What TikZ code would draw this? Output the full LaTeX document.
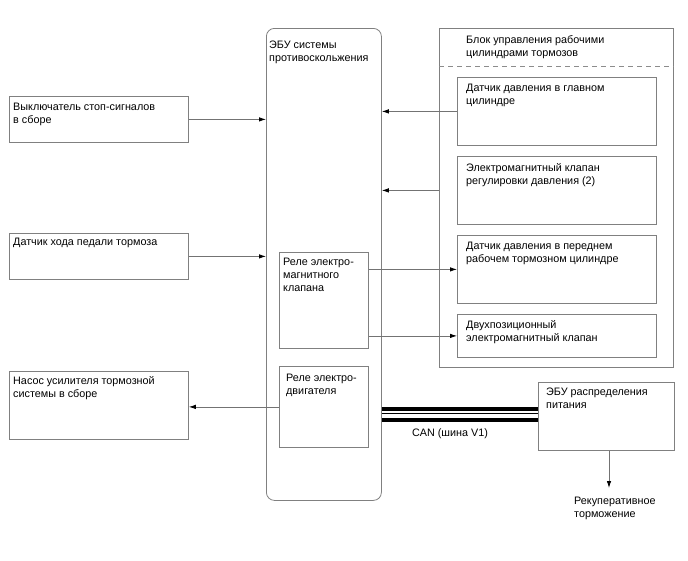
\documentclass[tikz,border=0pt]{standalone}
\usepackage{fontspec}
\setmainfont{Liberation Sans}
\usetikzlibrary{positioning, arrows.meta}

\tikzset{
  box/.style={draw=black!50, line width=0.8pt, anchor=north west, inner sep=0pt},
  txt/.style={anchor=north west, inner sep=0pt, align=left, font=\fontsize{10.8}{13}\selectfont},
  sig/.style={draw=black!55, line width=0.8pt, -{Latex[length=7pt,width=4.5pt,color=black]}},
  can/.style={draw=black, line width=3.4pt},
  sep/.style={draw=black!45, line width=0.8pt, dash pattern=on 5pt off 4pt}
}

\begin{document}
\begin{tikzpicture}[x=1pt, y=-1pt]
\useasboundingbox (0,0) rectangle (688,560);

        % antiskid ECU with its relays
        \node[box, rounded corners=8pt, minimum width=115, minimum height=472] (ecu) at (266,28) {};
        \node[txt] (ecutxt) at ([shift={(3,13)}]ecu.north west) {ЭБУ системы\\противоскольжения};
        \node[box, minimum width=89, minimum height=96] (relay1) at (279,252) {};
        \node[txt] (relay1txt) at ([shift={(4,5.5)}]relay1.north west) {Реле электро-\\магнитного\\клапана};
        \node[box, minimum width=89, minimum height=81] (relay2) at (279,366) {};
        \node[txt] (relay2txt) at ([shift={(7,7.5)}]relay2.north west) {Реле электро-\\двигателя};

        % left side
        \node[box, minimum width=179, minimum height=46] (stopsw) at (9,96) {};
        \node[txt] (stopswtxt) at ([shift={(4,6.5)}]stopsw.north west) {Выключатель стоп-сигналов\\в сборе};
        \node[box, minimum width=179, minimum height=46] (pedal) at (9,233) {};
        \node[txt] (pedaltxt) at ([shift={(4,5)}]pedal.north west) {Датчик хода педали тормоза};
        \node[box, minimum width=179, minimum height=68] (pump) at (9,371) {};
        \node[txt] (pumptxt) at ([shift={(4,5.5)}]pump.north west) {Насос усилителя тормозной\\системы в сборе};

        % brake actuator group
        \node[box, minimum width=234, minimum height=339] (grp) at (439,28) {};
        \node[txt] (grptxt) at ([shift={(27,7.5)}]grp.north west) {Блок управления рабочими\\цилиндрами тормозов};
        \draw[sep] ([shift={(0,38)}]grp.north west) -- ([shift={(0,38)}]grp.north east);
        \node[box, minimum width=199, minimum height=68] (mcp) at (457,77) {};
        \node[txt] (mcptxt) at ([shift={(9,6.5)}]mcp.north west) {Датчик давления в главном\\цилиндре};
        \node[box, minimum width=199, minimum height=68] (valve) at (457,156) {};
        \node[txt] (valvetxt) at ([shift={(9,7.5)}]valve.north west) {Электромагнитный клапан\\регулировки давления (2)};
        \node[box, minimum width=199, minimum height=68] (wcp) at (457,235) {};
        \node[txt] (wcptxt) at ([shift={(9,6.5)}]wcp.north west) {Датчик давления в переднем\\рабочем тормозном цилиндре};
        \node[box, minimum width=199, minimum height=43] (twopos) at (457,314) {};
        \node[txt] (twopostxt) at ([shift={(9,6.5)}]twopos.north west) {Двухпозиционный\\электромагнитный клапан};

        % power ECU
        \node[box, minimum width=136, minimum height=68] (pwr) at (538,382) {};
        \node[txt] (pwrtxt) at ([shift={(8,5.5)}]pwr.north west) {ЭБУ распределения\\питания};
        \coordinate (regenend) at (609,488);
        \node[txt] (regen) at (574,496.5) {Рекуперативное\\торможение};

        \path
        (stopsw.east) edge[sig] (stopsw.east -| ecu.west)
        (pedal.east) edge[sig] (pedal.east -| ecu.west)
        (relay2.west) edge[sig] (relay2.west -| pump.east)
        (mcp.west) edge[sig] (mcp.west -| ecu.east)
        (valve.west -| grp.west) edge[sig] (valve.west -| ecu.east)
        (wcp.west -| relay1.east) edge[sig] (wcp.west)
        (twopos.west -| relay1.east) edge[sig] (twopos.west)
        (pwr.south -| regenend) edge[sig] (regenend);

        % CAN bus
        \coordinate (canl) at (pwr.west -| ecu.east);
        \draw[can] ([yshift=7.5pt]canl) -- ([yshift=7.5pt]pwr.west);
        \draw[can, line width=1pt] ([yshift=2.5pt]canl) -- ([yshift=2.5pt]pwr.west);
        \draw[can, line width=4pt] ([yshift=-3.5pt]canl) -- ([yshift=-3.5pt]pwr.west);
        \node[txt] (cantxt) at ([shift={(30,12.5)}]canl) {CAN (шина V1)};

\end{tikzpicture}
\end{document}
